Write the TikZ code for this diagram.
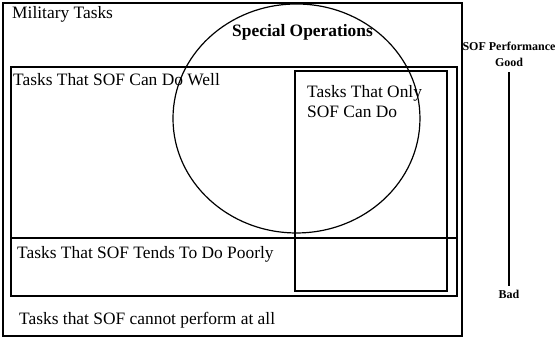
\documentclass[tikz,border=0pt]{standalone}
\usepackage{fontspec}
\setmainfont{Liberation Serif}

\begin{document}
\begin{tikzpicture}[scale=0.2]
		 \tikzstyle{every node}+=[inner sep=0pt]
		 \tikzstyle{box}=[black, line width=1.5pt]
		 \tikzstyle{tasktext}=[font=\fontsize{17.4}{20}\selectfont]
		 \tikzstyle{opstext}=[font=\fontsize{17.4}{20}\selectfont\bfseries]
		 \tikzstyle{scaletext}=[font=\fontsize{12}{14}\selectfont\bfseries]
		 \useasboundingbox (0,0) rectangle (97.88,-59.57);
		 \draw [box] (0.53,-0.53) rectangle (81.19,-59.05);
		 \draw [box] (1.93,-11.77) rectangle (80.31,-52.02);
		 \draw [box] (1.93,-41.82) -- (80.31,-41.82);
		 \draw [box] (51.84,-12.48) rectangle (78.55,-51.14);
		 \draw [black, line width=1.2pt] (52.10,-20.82) ellipse (21.70 and 20.12);
		 \node (military) [tasktext, anchor=base west] at (2.11,-3.25) {Military Tasks};
		 \node (specops) [opstext, anchor=base west] at (40.77,-6.50) {Special Operations};
		 \node (well) [tasktext, anchor=base west] at (2.28,-15.11) {Tasks That SOF Can Do Well};
		 \node (only) [tasktext, anchor=north west, align=left] at (53.95,-14.94) {Tasks That Only\\SOF Can Do};
		 \node (poorly) [tasktext, anchor=base west] at (2.99,-45.34) {Tasks That SOF Tends To Do Poorly};
		 \node (cannot) [tasktext, anchor=base west] at (3.34,-57.11) {Tasks that SOF cannot perform at all};
		 \node (perf) [scaletext, anchor=base] at (89.45,-8.96) {SOF Performance};
		 \node (good) [scaletext, anchor=base] at (89.45,-11.60) {Good};
		 \node (bad) [scaletext, anchor=base] at (89.45,-52.54) {Bad};
		 \draw [black, line width=1.5pt, shorten <=6pt, shorten >=4pt] (good.south) -- (bad.north);
	 \end{tikzpicture}
\end{document}
